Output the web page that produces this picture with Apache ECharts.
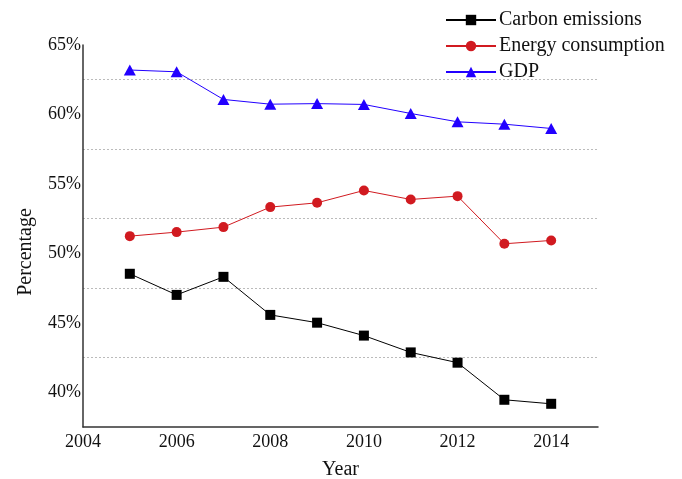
<!DOCTYPE html>
<html><head><meta charset="utf-8">
<script src="https://cdn.jsdelivr.net/npm/echarts@6/dist/echarts.min.js"></script>
<style>html,body{margin:0;padding:0;background:#fff}#c{width:682px;height:479px}</style>
</head><body><div id="c"></div>
<script>
const years = [2005,2006,2007,2008,2009,2010,2011,2012,2013,2014];
const carbon = [48.53,47.01,48.31,45.57,45.01,44.08,42.87,42.13,39.46,39.17];
const energy = [51.24,51.53,51.89,53.33,53.64,54.53,53.88,54.12,50.69,50.93];
const gdp = [63.2,63.07,61.08,60.74,60.78,60.72,60.07,59.47,59.3,58.99];
const seriesNames = ['Carbon emissions','Energy consumption','GDP'];
const xTicks = [2004,2006,2008,2010,2012,2014];

const font = '"Liberation Serif", "Times New Roman", serif';
const chart = echarts.init(document.getElementById('c'), null, {renderer:'canvas'});
const pair = arr => years.map((y,i)=>[y,arr[i]]);
chart.setOption({
  animation:false,
  backgroundColor:'#fff',
  textStyle:{fontFamily:font},
  grid:{left:83,right:84,top:45,bottom:52,containLabel:false,outerBoundsMode:'none'},
  legend:{
    orient:'vertical', left:440, top:5, itemGap:6,
    itemWidth:50, itemHeight:13,
    textStyle:{fontFamily:font,fontSize:20,color:'#111',padding:[0,0,0,-2]},
    data:seriesNames
  },
  xAxis:{
    type:'value', min:2004, max:2015, interval:2,
    axisLine:{show:true,lineStyle:{color:'#333',width:1.5}},
    axisTick:{show:false},
    splitLine:{show:false},
    axisLabel:{fontFamily:font,fontSize:18,color:'#111',margin:6,
      formatter:v=> xTicks.includes(v)? String(v):'', showMaxLabel:false},
    name:'Year', nameLocation:'middle', nameGap:33,
    nameTextStyle:{fontFamily:font,fontSize:20,color:'#111'}
  },
  yAxis:[{
    type:'value', min:37.5, max:65, interval:2.5,
    axisLine:{show:true,lineStyle:{color:'#333',width:1.5}},
    axisTick:{show:false},
    splitLine:{show:false},
    axisLabel:{fontFamily:font,fontSize:18,color:'#111',margin:2,
      formatter:v=> (Math.abs(v%5)<1e-6)? v+'%':''}
  },{
    type:'value', min:37.5, max:65, interval:5, position:'left',
    axisLine:{show:false}, axisTick:{show:false}, axisLabel:{show:false},
    splitLine:{show:true,showMinLine:false,showMaxLine:false,
      lineStyle:{color:'#bbb',type:[2,2],width:1}}
  }],
  graphic:[{
    type:'text', x:26, y:252, rotation:Math.PI/2,
    style:{text:'Percentage', font:'20px '+font, fill:'#111',
      textAlign:'center', textVerticalAlign:'middle'}
  }],
  series:[
    {name:seriesNames[0],type:'line',data:pair(carbon),symbol:'rect',symbolSize:10,
      itemStyle:{color:'#000'},lineStyle:{color:'#000',width:1}},
    {name:seriesNames[1],type:'line',data:pair(energy),symbol:'circle',symbolSize:10,
      itemStyle:{color:'#d11a20'},lineStyle:{color:'#d11a20',width:1}},
    {name:seriesNames[2],type:'line',data:pair(gdp),symbol:'triangle',symbolSize:[12,11],
      itemStyle:{color:'#2200ff'},lineStyle:{color:'#2200ff',width:1}}
  ]
});
</script></body></html>
